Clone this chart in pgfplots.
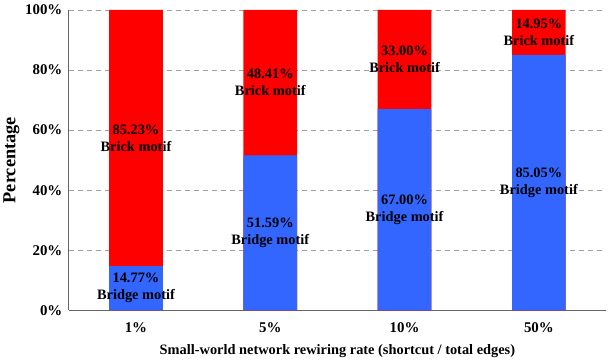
\documentclass[border=0pt]{standalone}
\usepackage{pgfplots}
\usepackage{pgfplotstable}
\pgfplotsset{compat=1.18}
\usepackage{fontspec}
\setmainfont{Liberation Serif}
\definecolor{bridgeblue}{RGB}{51,102,255}
\definecolor{brickred}{RGB}{255,0,0}
\pgfplotstableread{
x bridge brick
0 14.77 85.23
1 51.59 48.41
2 67.00 33.00
3 85.05 14.95
}\datatable
\begin{document}
\begin{tikzpicture}[font=\bfseries]
\begin{axis}[
  scale only axis,
  width=540bp, height=302bp,
  xmin=-0.5, xmax=3.5,
  ymin=0, ymax=100,
  axis lines=left,
  axis line style={-, draw=gray!80!black, line width=0.8pt},
  xtick={0,1,2,3},
  xticklabels={1\%,5\%,10\%,50\%},
  ytick={0,20,40,60,80,100},
  yticklabel={\pgfmathprintnumber{\tick}\%},
  /pgf/number format/assume math mode=true,
  major tick length=0pt,
  ymajorgrids,
  grid style={dash pattern=on 5bp off 4bp, gray!75, line width=0.7pt},
  tick label style={font=\fontsize{15}{17}\selectfont\bfseries},
  xticklabel style={yshift=-9pt},
  yticklabel style={xshift=-3pt},
  xlabel={Small-world network rewiring rate (shortcut / total edges)},
  ylabel={Percentage},
  xlabel style={font=\fontsize{14.5}{16}\selectfont\bfseries, yshift=-5pt},
  ylabel style={font=\fontsize{18.5}{20}\selectfont\bfseries, yshift=-1pt},
  clip=false,
]
\addplot[ybar, bar width=0.4, bar shift=0pt, fill=brickred, draw=none]
  table[x=x, y expr=\thisrow{bridge}+\thisrow{brick}]{\datatable};
\addplot[ybar, bar width=0.4, bar shift=0pt, fill=bridgeblue, draw=none]
  table[x=x, y=bridge]{\datatable};
\addplot[only marks, mark=none, point meta=explicit,
  nodes near coords={\pgfmathprintnumber[fixed,precision=2,fixed zerofill,assume math mode=true]{\pgfplotspointmeta}\%\\Bridge motif},
  every node near coord/.append style={anchor=center, align=center, font=\fontsize{14.5}{17}\selectfont\bfseries, inner sep=0pt}]
  table[x=x, y expr=\thisrow{bridge}/2, meta=bridge]{\datatable};
\addplot[only marks, mark=none, point meta=explicit,
  nodes near coords={\pgfmathprintnumber[fixed,precision=2,fixed zerofill,assume math mode=true]{\pgfplotspointmeta}\%\\Brick motif},
  every node near coord/.append style={anchor=center, align=center, font=\fontsize{14.5}{17}\selectfont\bfseries, inner sep=0pt}]
  table[x=x, y expr=\thisrow{bridge}+\thisrow{brick}/2, meta=brick]{\datatable};
\end{axis}
\path ([xshift=6bp,yshift=10bp]current axis.north east) circle (0pt);
\end{tikzpicture}
\end{document}
